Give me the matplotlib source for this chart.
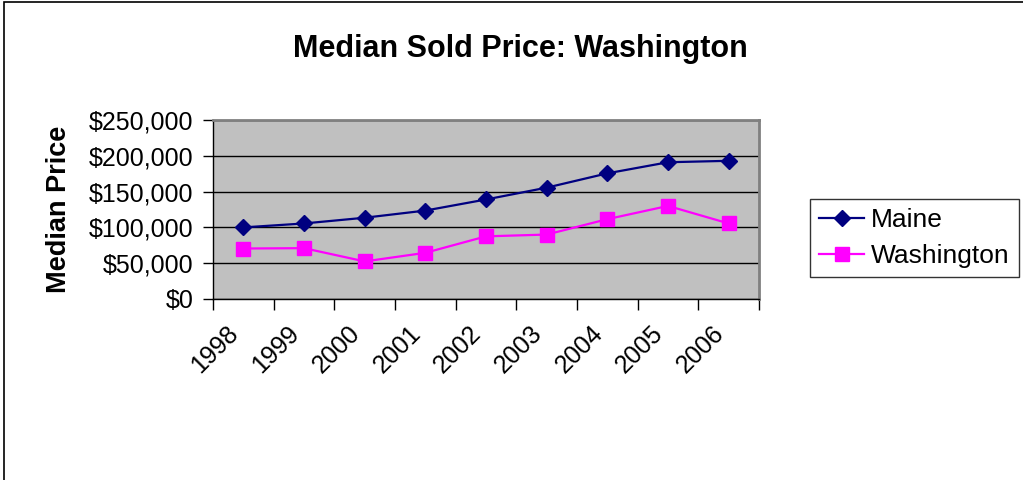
import matplotlib
matplotlib.use("Agg")
import matplotlib.pyplot as plt
from matplotlib.patches import Rectangle
from matplotlib.ticker import FuncFormatter, FixedLocator
from matplotlib.transforms import ScaledTranslation

plt.rcParams['font.family'] = ['Liberation Sans', 'DejaVu Sans']

# data
years = ['1998', '1999', '2000', '2001', '2002', '2003', '2004', '2005', '2006']
maine = [100000, 105500, 113500, 123500, 139000, 155500, 175500, 191000, 193000]
washington = [70500, 71000, 52500, 64500, 87500, 90000, 111500, 130000, 105500]
y_ticks = [0, 50000, 100000, 150000, 200000, 250000]

fig = plt.figure(figsize=(10.23, 4.8), dpi=100)

# outer chart frame (only top and left edges are visible in the crop)
fig.patches.append(Rectangle((4 / 1023, -0.1), 1.2, 1.1 - 1.5 / 480,
                             transform=fig.transFigure, fill=False,
                             edgecolor='black', linewidth=1.2))

ax = fig.add_axes([213 / 1023, 1 - 299 / 480, 546 / 1023, 179 / 480])
ax.set_facecolor('#C0C0C0')

x = list(range(len(years)))
ax.plot(x, maine, color='#000080', linewidth=1.6, marker='D',
        markersize=8, label='Maine', zorder=3)
ax.plot(x, washington, color='#FF00FF', linewidth=1.6, marker='s',
        markersize=9.5, label='Washington', zorder=3)

ax.set_xlim(-0.5, len(years) - 0.5)
ax.set_ylim(0, 250000)

ax.set_yticks(y_ticks)
ax.yaxis.set_major_formatter(FuncFormatter(lambda v, p: '${:,.0f}'.format(v)))
ax.tick_params(axis='y', labelsize=18, length=7, width=1, pad=7, direction='out')
ax.grid(axis='y', color='black', linewidth=1)
ax.set_axisbelow(True)

# ticks between categories, labels at category centres
ax.xaxis.set_major_locator(FixedLocator([i - 0.5 for i in range(len(years) + 1)]))
ax.xaxis.set_ticklabels([])
ax.tick_params(axis='x', length=8, width=1, direction='out')
ax.set_xticks(x, minor=True)
ax.set_xticklabels(years, minor=True, rotation=45, ha='right', va='top',
                   rotation_mode='anchor', fontsize=18)
ax.tick_params(axis='x', which='minor', length=0, pad=16)
shift = ScaledTranslation(-17 / 100, 0, fig.dpi_scale_trans)
for lbl in ax.get_xticklabels(minor=True):
    lbl.set_transform(lbl.get_transform() + shift)

for side in ['top', 'right']:
    ax.spines[side].set_color('#808080')
    ax.spines[side].set_linewidth(2)
for side in ['left', 'bottom']:
    ax.spines[side].set_color('black')
    ax.spines[side].set_linewidth(1)

ax.set_ylabel('Median Price', fontsize=19.5, fontweight='bold', labelpad=12)

fig.text(520 / 1023, 1 - 49 / 480, 'Median Sold Price: Washington',
         fontsize=22, fontweight='bold', ha='center', va='center')

leg = fig.legend(loc='center left', bbox_to_anchor=(810 / 1023, 1 - 238 / 480),
                 fontsize=19, frameon=True, fancybox=False, edgecolor='black',
                 handlelength=1.7, handletextpad=0.25, labelspacing=0.45,
                 borderpad=0.35, borderaxespad=0)
leg.get_frame().set_linewidth(1)

fig.savefig('out.png', dpi=100)
